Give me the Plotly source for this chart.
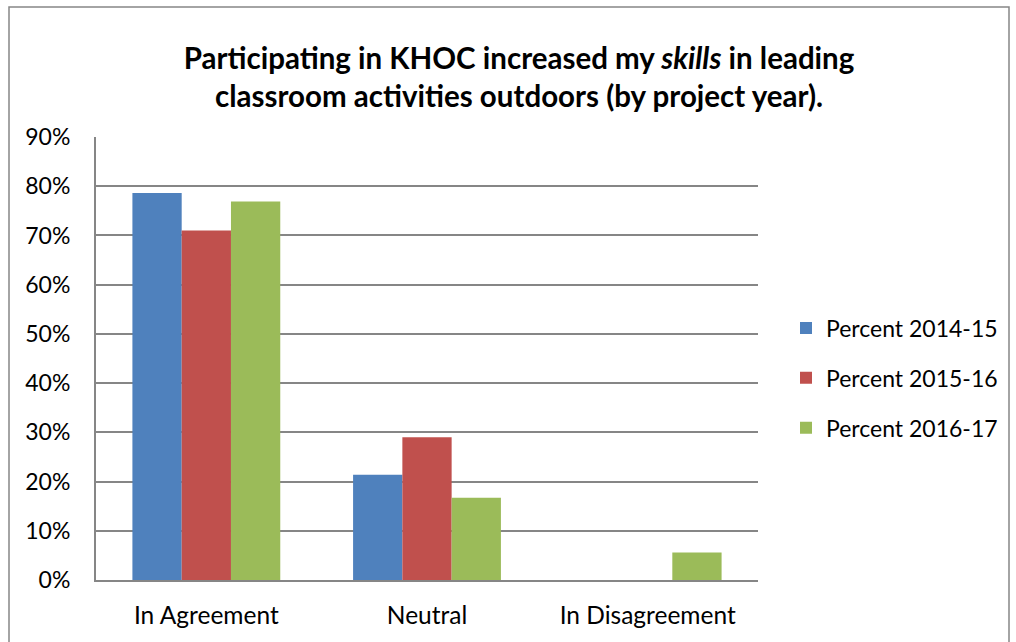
import plotly.graph_objects as go

# survey responses, share of respondents per project year
categories = ["In Agreement", "Neutral", "In Disagreement"]
series_names = ["Percent 2014-15", "Percent 2015-16", "Percent 2016-17"]
pct_2014_15 = [0.786, 0.214, 0.0]
pct_2015_16 = [0.71, 0.29, 0.0]
pct_2016_17 = [0.769, 0.167, 0.056]
y_ticks = [0, 0.1, 0.2, 0.3, 0.4, 0.5, 0.6, 0.7, 0.8, 0.9]

colors = ["#4F81BD", "#C0504D", "#9BBB59"]
font_family = "Lato, 'Open Sans', sans-serif"

fig = go.Figure()
for name, vals, col in zip(series_names, [pct_2014_15, pct_2015_16, pct_2016_17], colors):
	fig.add_trace(go.Bar(
		x = categories,
		y = vals,
		name = name,
		legendgroup = name,
		marker = {"color": col, "line": {"width": 0}},
	))

# plot area in pixels: x 96..758, y 137..580
W, H = 1016, 642
L, R, T, B = 96, 758, 137, 580
pw, ph = R - L, B - T

def px(x):
	return (x - L) / pw

def py(y):
	return (B - y) / ph

fig.update_layout(
	width = W,
	height = H,
	margin = {"l": L, "r": W - R, "t": T, "b": H - B, "pad": 0},
	paper_bgcolor = "white",
	plot_bgcolor = "white",
	font = {"family": font_family, "size": 23, "color": "black"},
	barmode = "group",
	bargap = 0.33,
	bargroupgap = 0,
	title = {
		"text": "<b>Participating in KHOC increased my <i>skills</i> in leading<br>classroom activities outdoors (by project year).</b>",
		"font": {"family": font_family, "size": 29.5, "color": "black"},
		"x": 519 / W,
		"xref": "container",
		"xanchor": "center",
		"y": 1 - 69 / H,
		"yref": "container",
		"yanchor": "middle",
	},
	legend = {
		"x": px(786),
		"y": py(378),
		"xanchor": "left",
		"yanchor": "middle",
		"traceorder": "grouped",
		"tracegroupgap": 17,
		"font": {"family": font_family, "size": 23, "color": "black"},
		"bgcolor": "rgba(0,0,0,0)",
	},
	xaxis = {
		"showline": True,
		"linecolor": "#868686",
		"linewidth": 2,
		"ticks": "",
		"ticklabelstandoff": 13,
		"tickfont": {"size": 24.5},
		"showgrid": False,
	},
	yaxis = {
		"range": [0, 0.9],
		"tickvals": y_ticks,
		"tickformat": ".0%",
		"showline": True,
		"linecolor": "#868686",
		"linewidth": 2,
		"showgrid": True,
		"gridcolor": "#868686",
		"gridwidth": 2,
		"zeroline": False,
		"ticks": "",
		"ticklabelstandoff": 19,
	},
	showlegend = True,
)

# outer chart frame
fig.add_shape(
	type = "rect",
	xref = "paper", yref = "paper",
	x0 = px(9), x1 = px(1009), y0 = py(660), y1 = py(7),
	line = {"color": "#868686", "width": 1.5},
	fillcolor = "rgba(0,0,0,0)",
	layer = "below",
)

# drop the browser's default body margin so the figure sits at the window origin
fig.write_html("out.html", config={"displayModeBar": False},
	post_script="document.body.style.margin = '0';")
